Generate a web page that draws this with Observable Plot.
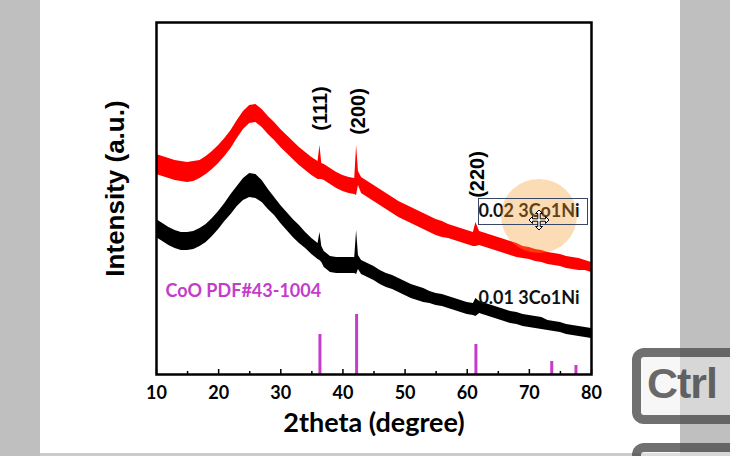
<!DOCTYPE html>
<html>
<head>
<meta charset="utf-8">
<script src="https://cdn.jsdelivr.net/npm/d3@7"></script>
<script src="https://cdn.jsdelivr.net/npm/@observablehq/plot@0.6"></script>
<style>
html, body { margin: 0; padding: 0; background: #fff; width: 730px; height: 456px; overflow: hidden; position: relative; }
#gl { position: absolute; left: 0; top: 0; width: 40px; height: 456px; background: #bfbfbf; }
#gr { position: absolute; left: 680px; top: 0; width: 50px; height: 456px; background: #bfbfbf; }
#gb { position: absolute; left: 40px; top: 453px; width: 640px; height: 3px; background: #cbcbcb; }
#chart { position: absolute; left: 0; top: 0; z-index: 1; }
#hl { position: absolute; left: 501px; top: 179px; width: 76px; height: 74px; border-radius: 50%; background: rgba(245,155,40,0.35); z-index: 2; }
#box { position: absolute; left: 478px; top: 198px; width: 108px; height: 25px; border: 1px solid #3a4666; z-index: 3; }
#cur { position: absolute; left: 527px; top: 208px; z-index: 4; }
.key { position: absolute; left: 632px; width: 120px; height: 58px; border: 9px solid rgba(40,40,40,0.65); border-radius: 12px; background: rgba(240,240,240,0.5); z-index: 5; }
#k1 { top: 348px; }
#k2 { top: 443px; }
#k1 span { position: absolute; left: 6px; top: 2px; font: bold 43px "Liberation Sans", Arial, sans-serif; color: rgba(50,50,50,0.72); letter-spacing: -1px; }
</style>
</head>
<body>
<div id="gl"></div><div id="gr"></div><div id="gb"></div>
<div id="chart"></div>
<div id="hl"></div>
<div id="box"></div>
<svg id="cur" width="24" height="24" viewBox="-12 -12 24 24"><path d="M0,-10 L3.5,-6.5 L1.2,-6.5 L1.2,-1.2 L6.5,-1.2 L6.5,-3.5 L10,0 L6.5,3.5 L6.5,1.2 L1.2,1.2 L1.2,6.5 L3.5,6.5 L0,10 L-3.5,6.5 L-1.2,6.5 L-1.2,1.2 L-6.5,1.2 L-6.5,3.5 L-10,0 L-6.5,-3.5 L-6.5,-1.2 L-1.2,-1.2 L-1.2,-6.5 L-3.5,-6.5 Z" fill="#fff" stroke="#000" stroke-width="1"/></svg>
<div class="key" id="k1"><span>Ctrl</span></div>
<div class="key" id="k2"></div>
<script>
// 2theta sample positions (degree)
const twoTheta = [10,11,12,13,14,15,16,17,18,19,20,21,22,23,24,25,26,27,28,29,30,31,32,33,34,35,36,
  36.3,36.6,37,38,39,40,41,41.9,42.2,42.5,
  43,44,45,46,47,48,49,50,51,52,53,54,55,56,57,58,59,60,61,61.4,
  62,63,64,65,66,67,68,69,70,71,72,73,74,75,76,77,78,79,80];

// 0.02 3Co1Ni : mean intensity (a.u.) and half-width of the noise band
const int002 = [210,208,206,204,203,202,203,205,209,214,220,227,235,245,254,260,261,256,249,243,236,230,224,218,213,208,204,
  212,203,202,198,194,191,189,188,204,196,
  189,185,181,177,173,169,165,162,159,156,153,150,147,145,143,141,139,137,135,140,
  136,134,132,130,128,126,124,122,121,119,118,116,115,114,112,111,110,109,107];
const noise002 = [10,10,10,10,10,10,10,9,9,9,9,9,9,9,9,9,9,9,9,9,9,9,9,9,9,9,9,
  17,8,8,8,8,8,8,8,25,7,
  8,8,8,8,8,8,8,8,8,8,8,8,8,8,7,7,7,7,7,12,
  7,7,7,7,7,7,7,6,6,6,6,6,6,6,6,6,6,5,5];

// 0.01 3Co1Ni
const int001 = [146,142,138,135,133,133,134,137,141,147,154,162,170,178,185,189,188,183,175,168,160,153,146,140,134,128,123,
  128,120,115,110,109,109,109,109,122,112,
  107,104,101,97,94,92,89,86,83,81,79,77,75,74,72,70,68,66,65,67,
  67,65,63,61,59,57,56,54,53,52,51,49,48,47,45,44,43,42,41];
const noise001 = [9,9,9,9,9,9,9,9,9,9,9,9,10,10,11,12,12,11,10,9,9,9,9,9,8,8,8,
  14,8,8,8,8,8,8,8,22,7,
  7,7,7,7,7,7,7,7,7,7,7,6,6,6,6,6,6,6,6,9,
  6,6,6,6,6,6,6,6,6,6,6,5,5,5,5,5,5,5,5];

// CoO PDF#43-1004 reference lines
const stickPos = [36.3, 42.2, 61.4, 73.6, 77.5];
const stickInt = [40, 60, 30, 13, 9];

// axis ticks
const xTicks = [10,20,30,40,50,60,70,80];
const xMinor = [15,25,35,45,55,65,75];

// annotations
const planes = ["(111)", "(200)", "(220)"];
const planeX = [36.4, 42.5, 61.65];
const planeY = [266, 263, 200];
const seriesNames = ["0.02 3Co1Ni", "0.01 3Co1Ni"];
const seriesLabelX = [61.8, 61.8];
const seriesLabelY = [163, 76];
const refName = ["CoO PDF#43-1004"];
const refLabelX = [11.45];
const refLabelY = [83];
const xTitle = ["2theta (degree)"];
const yTitle = ["Intensity (a.u.)"];

const rows002 = twoTheta.map((t, i) => ({t, c: int002[i], n: noise002[i]}));
const rows001 = twoTheta.map((t, i) => ({t, c: int001[i], n: noise001[i]}));

const chart = Plot.plot({
  width: 730,
  height: 456,
  marginLeft: 156,
  marginRight: 139,
  marginTop: 22,
  marginBottom: 82,
  style: {background: "transparent", fontFamily: "Lato"},
  x: {domain: [10, 80]},
  y: {domain: [0, 352], axis: null},
  marks: [
    Plot.areaY(rows001, {x: "t", y1: d => d.c - d.n, y2: d => d.c + d.n, fill: "#000000"}),
    Plot.areaY(rows002, {x: "t", y1: d => d.c - d.n, y2: d => d.c + d.n, fill: "#ff0000"}),
    Plot.ruleX(stickPos, {x: d => d, y1: 0, y2: (d, i) => stickInt[i], stroke: "#c43dca", strokeWidth: 3}),
    Plot.ruleX(xTicks, {x: d => d, y1: 0, y2: 5, stroke: "#000", strokeWidth: 1.5}),
    Plot.ruleX(xMinor, {x: d => d, y1: 0, y2: 3, stroke: "#000", strokeWidth: 1.5}),
    Plot.frame({stroke: "#000", strokeWidth: 2.5}),
    Plot.axisX({ticks: xTicks, tickSize: 0, tickPadding: 12, tickFormat: d => String(d), fontSize: 18, fontWeight: "bold", fontFamily: "Lato", label: null}),
    Plot.text(xTitle, {text: d => d, frameAnchor: "bottom", lineAnchor: "middle", dy: 49, fontSize: 27, fontWeight: "bold", fontFamily: "Lato", fill: "#000"}),
    Plot.text(yTitle, {text: d => d, frameAnchor: "left", textAnchor: "middle", lineAnchor: "middle", dx: -41, dy: -10, rotate: -90, fontSize: 26, fontWeight: "bold", fontFamily: "Liberation Sans", fill: "#000"}),
    Plot.text(planes, {text: d => d, x: (d, i) => planeX[i], y: (d, i) => planeY[i], rotate: -90, fontSize: 20, fontWeight: "bold", fontFamily: "Liberation Sans", fill: "#000"}),
    Plot.text(seriesNames, {text: d => d, x: (d, i) => seriesLabelX[i], y: (d, i) => seriesLabelY[i], textAnchor: "start", fontSize: 18, fontWeight: "bold", fontFamily: "Lato", fill: "#111"}),
    Plot.text(refName, {text: d => d, x: (d, i) => refLabelX[i], y: (d, i) => refLabelY[i], textAnchor: "start", fontSize: 18, fontWeight: "bold", fontFamily: "Lato", fill: "#c43dca"})
  ]
});
document.getElementById("chart").append(chart);
</script>
</body>
</html>
